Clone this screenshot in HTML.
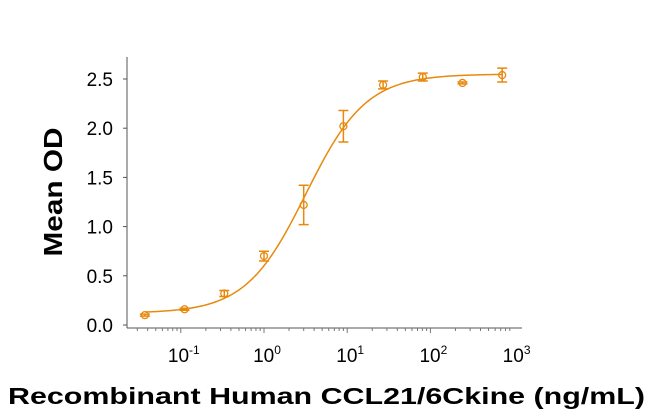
<!DOCTYPE html>
<html><head><meta charset="utf-8"><style>
html,body{margin:0;padding:0;background:#fff;}
svg{display:block;font-family:"Liberation Sans",Arial,sans-serif;}
</style></head><body>
<svg id="chart" width="650" height="420" viewBox="0 0 650 420">
<g id="axes"></g>
<g id="marks"></g>
<text x="62" y="192" transform="rotate(-90 62 192)" text-anchor="middle" textLength="129" lengthAdjust="spacingAndGlyphs" font-size="26" font-weight="bold" fill="#000">Mean OD</text>
<text x="8" y="404" textLength="637" lengthAdjust="spacingAndGlyphs" font-size="23" font-weight="bold" fill="#000">Recombinant Human CCL21/6Ckine (ng/mL)</text>
</svg>
<script>
const concentrations = [0.037, 0.111, 0.333, 1, 3, 9, 27, 81, 243, 729];
const meanOD = [0.10, 0.16, 0.32, 0.70, 1.22, 2.02, 2.44, 2.52, 2.46, 2.54];
const errorOD = [0.01, 0.01, 0.03, 0.05, 0.20, 0.16, 0.04, 0.04, 0.01, 0.07];
const yTicks = [0, 0.5, 1.0, 1.5, 2.0, 2.5];
const yTickLabels = ["0.0", "0.5", "1.0", "1.5", "2.0", "2.5"];
const xDecades = [-1, 0, 1, 2, 3];
const fitParams = [0.12, 2.55, 3.2, 1.2]; // bottom, top, EC50, hill

const NS = "http://www.w3.org/2000/svg";
const C = "#E8890C";
function xs(v){ return 264 + 83.2 * Math.log10(v); }
function ys(v){ return 325 - 98.4 * v; }
function el(tag, attrs, parent){
  const e = document.createElementNS(NS, tag);
  for (const k in attrs) e.setAttribute(k, attrs[k]);
  parent.appendChild(e); return e;
}
const axes = document.getElementById('axes');
const marks = document.getElementById('marks');
const yl = el('line', {x1:127,y1:57,x2:127,y2:328,stroke:'#555','stroke-width':1}, axes);


const xl = el('line', {x1:127,y1:328,x2:522,y2:328,stroke:'#555','stroke-width':1}, axes);


yTicks.forEach((t,i)=>{
  const y = ys(t);
  const tk = el('line', {x1:123,y1:y,x2:127,y2:y,stroke:'#555'}, axes);
  
  
  const tx = el('text', {x:113,y:y+7,'text-anchor':'end','font-size':19,fill:'#000'}, axes);
  tx.textContent = yTickLabels[i];
  
  
});
for (let d=-2; d<3; d++){
  for (let m=1; m<10; m++){
    const v = m*Math.pow(10,d); const x = xs(v);
    if (x < 128 || x > 521) continue;
    const mt = el('line', {x1:x,y1:328,x2:x,y2:m===1?333:331,stroke:'#777'}, axes);
    
    
  }
}
xDecades.forEach(d=>{
  const x = xs(Math.pow(10,d));
  const tx = el('text', {x:x+3,y:362,'text-anchor':'middle','font-size':19,fill:'#000'}, axes);
  
  
  tx.appendChild(document.createTextNode('10'));
  const sp = el('tspan', {dy:-8,'font-size':12}, tx);
  sp.textContent = String(d);
});
const [b,t,ec,h] = fitParams;
let dstr = '';
for (let i=0;i<=200;i++){
  const lx = Math.log10(0.037) + (Math.log10(729)-Math.log10(0.037))*i/200;
  const v = Math.pow(10,lx);
  const yv = b + (t-b)/(1+Math.pow(ec/v,h));
  dstr += (i?'L':'M') + xs(v).toFixed(2) + ' ' + ys(yv).toFixed(2);
}
const curve = el('path', {d:dstr,fill:'none',stroke:C,'stroke-width':1.5}, marks);


concentrations.forEach((c,i)=>{
  const x = xs(c), y = ys(meanOD[i]);
  const y1 = ys(meanOD[i]+errorOD[i]), y2 = ys(meanOD[i]-errorOD[i]);
  const g = el('g', {}, marks);
  
  
  el('path', {d:`M${x} ${y1}L${x} ${y2}M${x-5} ${y1}L${x+5} ${y1}M${x-5} ${y2}L${x+5} ${y2}`,stroke:C,'stroke-width':1.5,fill:'none'}, g);
  el('circle', {cx:x,cy:y,r:3.5,fill:'none',stroke:C,'stroke-width':1.3}, g);
});
</script>
</body></html>
